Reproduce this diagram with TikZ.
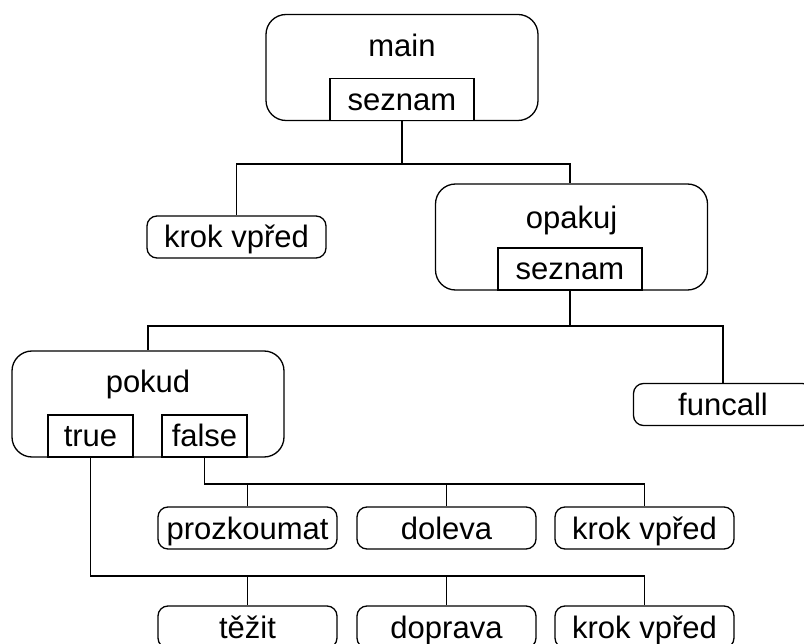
\documentclass[tikz,border=0pt]{standalone}
\usepackage{fontspec}
\setmainfont{Liberation Sans}
\usetikzlibrary{positioning}

\begin{document}
\begin{tikzpicture}[x=1pt, y=-1pt, line width=1.3pt,
        every node/.style={font=\fontsize{31}{36}\selectfont, inner sep=0pt, text height=24pt, text depth=2pt},
        block/.style={draw, rounded corners=20pt, minimum width=272pt, minimum height=106pt},
        leaf/.style={draw, rounded corners=10pt, minimum width=179pt, minimum height=42pt},
        slot/.style={draw, fill=white, minimum height=42pt, anchor=south},
        title/.style={anchor=base}]
            \useasboundingbox (0,0) rectangle (804,644);

            \node [block] (main) at (402,67.5) {};
            \node [title] (main-name) at ([yshift=-43pt]main.north) {main};
            \node [slot, minimum width=144pt] (main-list) at (main.south) {seznam};

            \node [leaf] (krok1) at (236.5,237) {krok vpřed};
            \node [block] (opakuj) at (571.5,237) {};
            \node [title] (opakuj-name) at ([yshift=-45pt]opakuj.north) {opakuj};
            \node [slot, minimum width=144pt] (opakuj-list) at ([xshift=-1.5pt]opakuj.south) {seznam};

            \node [block] (pokud) at (148,404) {};
            \node [title] (pokud-name) at ([yshift=-42pt]pokud.north) {pokud};
            \node [slot, minimum width=85pt] (pokud-true) at ([xshift=-57.5pt]pokud.south) {true};
            \node [slot, minimum width=85pt] (pokud-false) at ([xshift=56.5pt]pokud.south) {false};
            \node [leaf] (funcall) at (723,404.5) {funcall};

            \node [leaf] (prozk) at (247.5,528) {prozkoumat};
            \node [leaf] (doleva) at (446.5,528) {doleva};
            \node [leaf] (krok2) at (644.5,528) {krok vpřed};
            \node [leaf] (tezit) at (247.5,627) {těžit};
            \node [leaf] (doprava) at (446.5,627) {doprava};
            \node [leaf] (krok3) at (644.5,627) {krok vpřed};

            \coordinate (bar1) at (0,164);
            \coordinate (bar2) at (0,326);
            \coordinate (bar3) at (0,484);
            \coordinate (bar4) at (0,576);

            \draw (main-list.south) |- (bar1 -| krok1) -- (krok1.north);
            \draw (main-list.south) |- (bar1 -| opakuj-list) -- (opakuj.north -| opakuj-list);
            \draw (opakuj-list.south) |- (bar2 -| pokud) -- (pokud.north);
            \draw (opakuj-list.south) |- (bar2 -| funcall) -- (funcall.north);
            \foreach \n in {prozk,doleva,krok2}
                \draw (pokud-false.south) |- (bar3 -| \n) -- (\n.north);
            \foreach \n in {tezit,doprava,krok3}
                \draw (pokud-true.south) |- (bar4 -| \n) -- (\n.north);
        \end{tikzpicture}
\end{document}
